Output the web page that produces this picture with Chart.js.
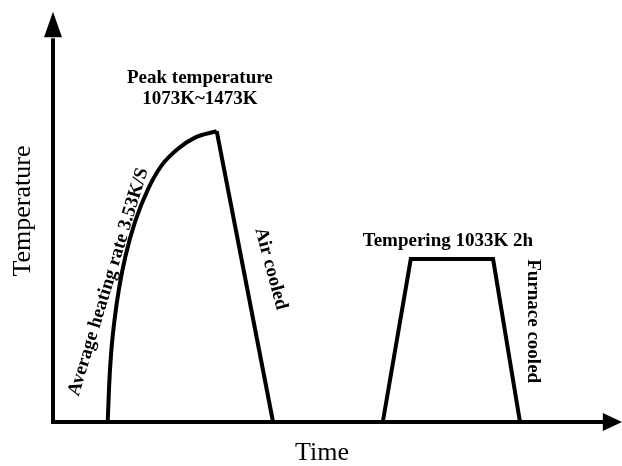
<!DOCTYPE html>
<html>
<head>
<meta charset="utf-8">
<script src="https://cdn.jsdelivr.net/npm/chart.js@4/dist/chart.umd.min.js"></script>
<style>
  html, body { margin: 0; padding: 0; background: #ffffff; }
  canvas { display: block; }
</style>
</head>
<body>
<canvas id="c" width="622" height="466"></canvas>
<script>
// ---- data (arbitrary schematic units) ----
const heatTime   = [10.17, 10.41, 10.78, 11.39, 12.27, 13.51, 15.24, 17.71, 20.20, 23.29, 26.39, 30.43];
const heatTemp   = [0, 7.9, 15.9, 23.7, 31.6, 39.5, 47.4, 55.3, 60.8, 64.8, 67.4, 68.9];
const coolTime   = [30.43, 40.9];
const coolTemp   = [68.9, 0];
const temperTime = [61.3, 66.5, 81.8, 86.8];
const temperTemp = [0, 38.6, 38.6, 0];
const axisTitles = ['Time', 'Temperature'];
const labelTexts = ['Peak temperature', '1073K~1473K', 'Tempering 1033K 2h',
                    'Air cooled', 'Furnace cooled', 'Average heating rate 3.53K/S'];

const toPts = (xs, ys) => xs.map((x, i) => ({x: x, y: ys[i]}));

// label placement (data units) and rotation (degrees)
const labelPlacement = [
  {x: 27.3, y: 80.3, rot: 0,     base: 'alphabetic'},
  {x: 27.3, y: 75.4, rot: 0,     base: 'alphabetic'},
  {x: 73.4, y: 41.7, rot: 0,     base: 'alphabetic'},
  {x: 40.5, y: 36.3, rot: 75,    base: 'middle'},
  {x: 89.2, y: 23.9, rot: 90,    base: 'middle'},
  {x: 10.3, y: 33.2, rot: -73,   base: 'middle'}
];

const decorPlugin = {
  id: 'decor',
  afterDatasetsDraw(chart) {
    const ctx = chart.ctx;
    const xs = chart.scales.x, ys = chart.scales.y;
    const x0 = xs.getPixelForValue(0), y0 = ys.getPixelForValue(0);
    const yTip = ys.getPixelForValue(97.2), yBase = ys.getPixelForValue(91.2);
    const xTip = xs.getPixelForValue(105.8), xBase = xs.getPixelForValue(102.2);
    ctx.save();
    ctx.strokeStyle = '#000'; ctx.fillStyle = '#000';
    ctx.lineWidth = 4; ctx.lineCap = 'butt';
    // y axis
    ctx.beginPath(); ctx.moveTo(x0, y0 + 2); ctx.lineTo(x0, yBase + 1); ctx.stroke();
    // x axis
    ctx.beginPath(); ctx.moveTo(x0 - 2, y0); ctx.lineTo(xBase + 1, y0); ctx.stroke();
    // arrow heads
    ctx.beginPath(); ctx.moveTo(x0, yTip); ctx.lineTo(x0 - 9, yBase); ctx.lineTo(x0 + 9, yBase); ctx.closePath(); ctx.fill();
    ctx.beginPath(); ctx.moveTo(xTip, y0); ctx.lineTo(xBase, y0 - 9); ctx.lineTo(xBase, y0 + 9); ctx.closePath(); ctx.fill();
    // labels
    ctx.font = 'bold 19px "Liberation Serif", "Times New Roman", serif';
    ctx.textAlign = 'center';
    labelTexts.forEach((t, i) => {
      const p = labelPlacement[i];
      ctx.save();
      ctx.translate(xs.getPixelForValue(p.x), ys.getPixelForValue(p.y));
      ctx.rotate(p.rot * Math.PI / 180);
      ctx.textBaseline = p.base;
      ctx.fillText(t, 0, 0);
      ctx.restore();
    });
    ctx.restore();
  }
};

const lineStyle = {
  borderColor: '#000', borderWidth: 4, pointRadius: 0, showLine: true,
  fill: false, clip: false, borderJoinStyle: 'miter', borderCapStyle: 'butt'
};

new Chart(document.getElementById('c'), {
  type: 'scatter',
  data: {
    datasets: [
      Object.assign({label: 'heating', data: toPts(heatTime, heatTemp), cubicInterpolationMode: 'monotone'}, lineStyle),
      Object.assign({label: 'air cooling', data: toPts(coolTime, coolTemp), tension: 0}, lineStyle),
      Object.assign({label: 'tempering', data: toPts(temperTime, temperTemp), tension: 0}, lineStyle)
    ]
  },
  options: {
    responsive: false,
    animation: false,
    events: [],
    layout: { padding: { left: 0, right: 31, top: 0, bottom: 0 } },
    plugins: { legend: { display: false }, tooltip: { enabled: false } },
    scales: {
      x: {
        type: 'linear', min: 0, max: 100,
        ticks: { display: false },
        grid: { display: false, drawTicks: false },
        border: { display: false },
        title: {
          display: true, text: axisTitles[0], color: '#000',
          font: { family: '"Liberation Serif", "Times New Roman", serif', size: 26, lineHeight: 1 },
          padding: { top: 18, bottom: 0 }
        }
      },
      y: {
        type: 'linear', min: 0, max: 100,
        ticks: { display: false },
        grid: { display: false, drawTicks: false },
        border: { display: false },
        title: {
          display: true, text: axisTitles[1], color: '#000',
          font: { family: '"Liberation Serif", "Times New Roman", serif', size: 26, lineHeight: 1 },
          padding: { top: 10, bottom: 17 }
        }
      }
    }
  },
  plugins: [decorPlugin]
});
</script>
</body>
</html>
